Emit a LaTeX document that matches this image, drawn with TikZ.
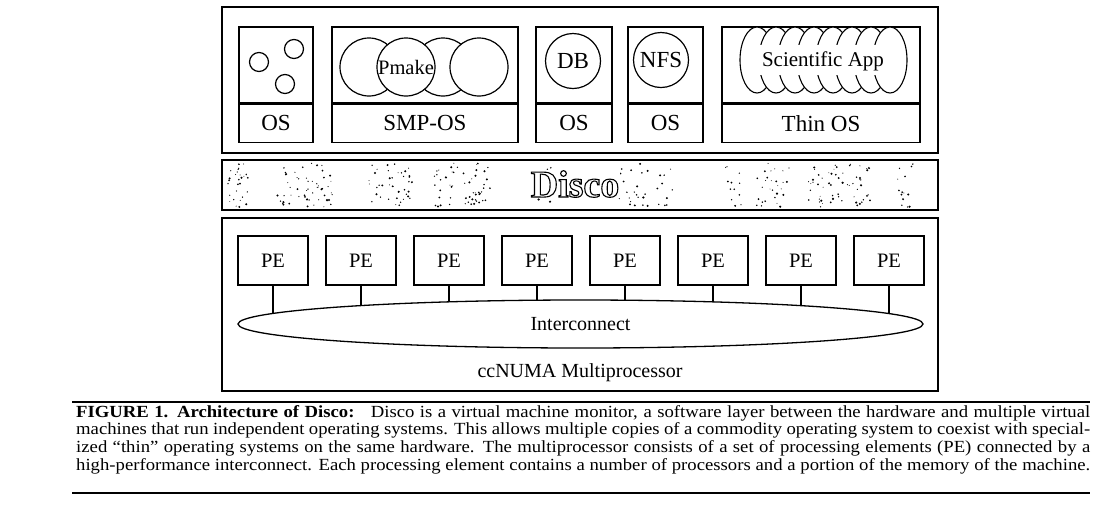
\documentclass[tikz,border=0pt]{standalone}
\usepackage{fontspec}
\setmainfont{Liberation Serif}
\newfontfamily\capfont{Liberation Serif}[FakeStretch=1.1]
\usetikzlibrary{shapes.geometric}

\begin{document}
\begin{tikzpicture}[x=1pt, y=-1pt,
    frame/.style={draw, line width=1.8pt},
    vmbox/.style={draw, line width=1.3pt, inner sep=0pt, font=\fontsize{23}{26}\selectfont},
    pebox/.style={draw, line width=1.3pt, minimum width=70pt, minimum height=49pt, inner sep=0pt, font=\fontsize{20.5}{24}\selectfont},
    proc/.style={circle, draw, fill=white, line width=1.2pt, minimum size=58pt, inner sep=0pt, font=\fontsize{20.5}{24}\selectfont},
    link/.style={line width=1.3pt}]

    \useasboundingbox (0,0) rectangle (1105,515);

    % 虚拟机
    \draw[frame] (222,7) rectangle (938,153);
    \foreach \n/\l/\r/\t in {vma/239/313/OS, vmb/332/518/SMP-OS, vmc/536/612/OS, vmd/628/703/OS, vme/722/920/Thin OS} {
        \node[vmbox, minimum width={\r-\l}, minimum height=76pt] (\n-app) at ({(\l+\r)/2},65) {};
        \node[vmbox, minimum width={\r-\l}, minimum height=38pt, anchor=north] (\n-os) at (\n-app.south) {\t};
    }

    % 进程
    \node[proc, minimum size=19pt] (pa) at (259,62) {};
    \node[proc, minimum size=19pt] (pb) at (294,49) {};
    \node[proc, minimum size=19pt] (pc) at (285,84) {};
    \node[proc] (sm1) at (369,67) {};
    \node[proc] (sm3) at (443,67) {};
    \node[proc] (pmake) at (406,67) {Pmake};
    \node[proc] (sm4) at (479,67) {};
    \node[proc, minimum size=55pt, font=\fontsize{23}{26}\selectfont] (db) at (573,61) {DB};
    \node[proc, minimum size=55pt, font=\fontsize{23}{26}\selectfont] (nfs) at (661,60) {NFS};

    % 科学计算
    \foreach \i in {0,...,7}
        \draw[line width=1.1pt, fill=white] ({757+19*\i},60) ellipse [x radius=17, y radius=33];
    \fill[white] (755,45) rectangle (888,75);
    \node[font=\fontsize{21}{24}\selectfont] (sci) at (823,61) {Scientific App};

    % Disco 层
    \draw[line width=1.3pt] (222,160) rectangle (938,210);
    \pgfmathsetseed{7}
    \foreach \cx/\sx/\k in {238/10/30, 305/28/55, 390/22/40, 462/28/55, 540/12/12, 632/16/22, 665/8/10, 733/8/12, 772/18/28, 840/32/60, 905/8/14} {
        \foreach \j in {1,...,\k}
            \fill ({\cx+\sx*rand},{185+22*rand}) circle [radius={0.4+0.8*rnd}];
    }
    \node[font=\fontsize{38}{40}\bfseries, fill=white, inner sep=1pt] (disco) at (575,184)
        {\special{pdf:literal direct 1 Tr 1.1 w}Disco\special{pdf:literal direct 0 Tr}};

    % 多处理器
    \draw[frame] (222,218) rectangle (938,391);
    \node[ellipse, draw, line width=1.3pt, minimum width=685pt, minimum height=48pt, inner sep=0pt,
          font=\fontsize{20}{24}\selectfont] (ic) at (580.5,324) {Interconnect};
    \foreach \i in {1,...,8} {
        \node[pebox] (pe\i) at ({273+88*(\i-1)},260.5) {PE};
        \pgfmathsetmacro\dxx{273+88*(\i-1)-580.5}
        \pgfmathsetmacro\dyy{24*sqrt(1-(\dxx/342.5)^2)}
        \draw[link] (pe\i.south) -- ([shift={(\dxx,-\dyy)}]ic.center);
    }
    \node[font=\fontsize{20}{24}\selectfont] (numa) at (580,373) {ccNUMA Multiprocessor};

    % 图注
    \node[anchor=north west, text width=1014pt, align=justify, inner sep=0pt,
          font=\capfont\fontsize{17}{17.7}\selectfont] (cap) at (76,405)
        {\parfillskip=0pt\hyphenpenalty=10000
         {\bfseries FIGURE 1. Architecture of Disco:}\hspace{0.5em} Disco is a virtual machine monitor, a software layer between the hardware and multiple virtual\linebreak
         machines that run independent operating systems. This allows multiple copies of a commodity operating system to coexist with special-\linebreak
         ized “thin” operating systems on the same hardware. The multiprocessor consists of a set of processing elements (PE) connected by a\linebreak
         high-performance interconnect. Each processing element contains a number of processors and a portion of the memory of the machine.\par};
    \draw[line width=1.6pt] (72,402) -- (1090,402);
    \draw[line width=1.6pt] (72,493) -- (1090,493);
\end{tikzpicture}
\end{document}
